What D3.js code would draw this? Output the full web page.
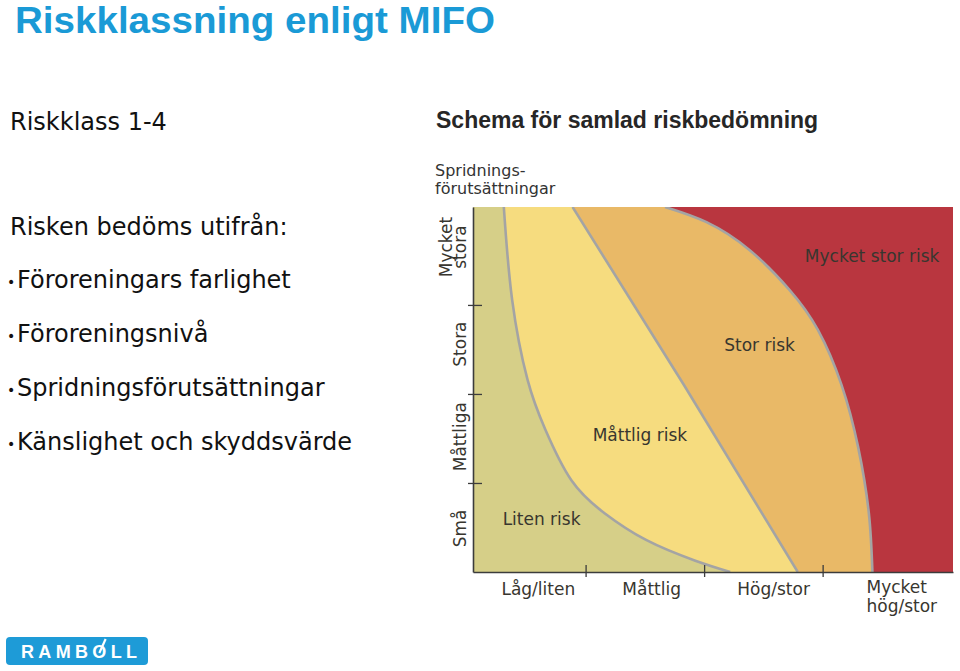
<!DOCTYPE html>
<html><head><meta charset="utf-8">
<script src="https://cdn.jsdelivr.net/npm/d3@7"></script>
<style>html,body{margin:0;padding:0;background:#fff;} svg{display:block;}</style>
</head><body>
<svg id="c" width="960" height="671"></svg>
<script>
// ---------- data ----------
const xCategories = ["Låg/liten", "Måttlig", "Hög/stor", "Mycket hög/stor"];
const yCategories = ["Små", "Måttliga", "Stora", "Mycket stora"];
const xTickValues = [1, 2, 3];
const yTickValues = [1, 2, 3];
const riskClasses = ["Liten risk", "Måttlig risk", "Stor risk", "Mycket stor risk"];
// boundary curves between risk classes, [x, y] in category units (top to bottom)
const boundaryLitenMattlig = [[0.31,4.1],[0.38,3.06],[0.51,2.16],[0.66,1.60],[0.88,1.03],[1.16,0.66],[1.51,0.36],[1.92,0.13],[2.22,0]];
const boundaryMattligStor = [[0.89,4.1],[1.83,2.1],[2.79,0]];
const boundaryStorMycket = [[1.67,4.1],[2.02,3.93],[2.38,3.62],[2.72,3.17],[2.96,2.72],[3.16,2.10],[3.30,1.40],[3.39,0.66],[3.42,0]];
const bulletItems = ["Föroreningars farlighet", "Föroreningsnivå", "Spridningsförutsättningar", "Känslighet och skyddsvärde"];

// ---------- layout / style ----------
const svg = d3.select("#c");
const X0 = 0.05, X1 = 4.1, Y0 = 0, Y1 = 4.1;
const x = d3.scaleLinear().domain([X0, X1]).range([473, 953]);
const y = d3.scaleLinear().domain([Y0, Y1]).range([572, 207]);
const colors = ["#d6cf88", "#f6dc7f", "#e9b967", "#b9363f"];
const lineCol = "#a4a4a4";
const axisCol = "#3c3c3c";
const textCol = "#38362f";
const FONT = "'DejaVu Sans', Verdana, sans-serif";

// page title
svg.append("text").attr("x", 15).attr("y", 33)
  .attr("font-family", "'Liberation Sans', Arial, sans-serif").attr("font-weight", "bold")
  .attr("font-size", 37).attr("fill", "#1a9ad6")
  .attr("textLength", 480).attr("lengthAdjust", "spacingAndGlyphs").text("Riskklassning enligt MIFO");

// left text
const left = svg.append("g").attr("font-family", FONT).attr("font-size", 24).attr("fill", "#111");
left.append("text").attr("x", 10).attr("y", 130).text("Riskklass 1-4");
left.append("text").attr("x", 10).attr("y", 235).text("Risken bedöms utifrån:");
bulletItems.forEach((t, i) => {
  const yy = 288 + i * 54;
  left.append("text").attr("x", 7).attr("y", yy - 1).attr("font-size", 14).text("•");
  left.append("text").attr("x", 17).attr("y", yy).text(t);
});

// chart title
svg.append("text").attr("x", 436).attr("y", 128)
  .attr("font-family", "'Liberation Sans', Arial, sans-serif").attr("font-weight", "bold")
  .attr("font-size", 23).attr("fill", "#262626").text("Schema för samlad riskbedömning");

// y axis title
const ytg = svg.append("g").attr("font-family", FONT).attr("font-size", 16).attr("fill", "#333");
ytg.append("text").attr("x", 435).attr("y", 176).text("Spridnings-");
ytg.append("text").attr("x", 435).attr("y", 193.5).text("förutsättningar");

// plot regions
svg.append("clipPath").attr("id", "plotclip").append("rect")
  .attr("x", x(X0)).attr("y", y(Y1)).attr("width", x(X1) - x(X0)).attr("height", y(Y0) - y(Y1));
const plot = svg.append("g").attr("clip-path", "url(#plotclip)");
const curveGen = d3.line().x(d => x(d[0])).y(d => y(d[1])).curve(d3.curveNatural);

plot.append("rect").attr("x", x(X0)).attr("y", y(Y1))
  .attr("width", x(X1) - x(X0)).attr("height", y(Y0) - y(Y1)).attr("fill", colors[0]);

const boundaries = [boundaryLitenMattlig, boundaryMattligStor, boundaryStorMycket];
boundaries.forEach((b, i) => {
  const last = b[b.length - 1];
  const d = curveGen(b) + `L${x(X1) + 2},${y(last[1])}L${x(X1) + 2},${y(Y1) - 2}L${x(b[0][0])},${y(Y1) - 2}Z`;
  plot.append("path").attr("d", d).attr("fill", colors[i + 1]);
});
boundaries.forEach(b => {
  plot.append("path").attr("d", curveGen(b)).attr("fill", "none")
    .attr("stroke", lineCol).attr("stroke-width", 2.6);
});

// region labels (anchors in category units)
const regionLabelPos = [[0.30, 0.53], [1.06, 1.47], [2.17, 2.48], [2.85, 3.48]];
riskClasses.forEach((t, i) => {
  svg.append("text").attr("x", x(regionLabelPos[i][0])).attr("y", y(regionLabelPos[i][1]))
    .attr("font-family", FONT).attr("font-size", 17).attr("fill", textCol).text(t);
});

// axes
const xAxis = svg.append("g").attr("transform", `translate(0,${y(Y0)})`)
  .call(d3.axisBottom(x).tickValues(xTickValues).tickSize(12).tickSizeOuter(0).tickFormat(""));
xAxis.selectAll(".tick line").attr("y1", -7).attr("y2", 5).attr("stroke", axisCol).attr("stroke-width", 1.3);
xAxis.select(".domain").attr("stroke", axisCol).attr("stroke-width", 1.6);

const yAxis = svg.append("g").attr("transform", `translate(${x(X0)},0)`)
  .call(d3.axisLeft(y).tickValues(yTickValues).tickSize(5).tickSizeOuter(0).tickFormat(""));
yAxis.selectAll(".tick line").attr("x1", -5).attr("x2", 9).attr("stroke", axisCol).attr("stroke-width", 1.3);
yAxis.select(".domain").attr("stroke", axisCol).attr("stroke-width", 1.6);

// x category labels (left anchors in category units)
const xLabelLeft = [0.29, 1.31, 2.28, 3.37];
xCategories.forEach((c, i) => {
  const lines = c === "Mycket hög/stor" ? ["Mycket", "hög/stor"] : [c];
  lines.forEach((l, j) => {
    svg.append("text").attr("font-family", FONT).attr("font-size", 17).attr("fill", textCol)
      .attr("x", x(xLabelLeft[i])).attr("y", (lines.length > 1 ? 593 : 595) + j * 18.5).text(l);
  });
});

// y category labels (rotated, centers in category units)
const yLabelCenter = [0.49, 1.52, 2.56, 3.65];
yCategories.forEach((c, i) => {
  const lines = c === "Mycket stora" ? ["Mycket", "stora"] : [c];
  const cy = y(yLabelCenter[i]);
  lines.forEach((l, j) => {
    const bx = lines.length > 1 ? 452 + j * 14 : 466;
    svg.append("text").attr("font-family", FONT).attr("font-size", 17).attr("fill", textCol)
      .attr("text-anchor", "middle")
      .attr("transform", `translate(0,${cy}) rotate(-90)`)
      .attr("x", 0).attr("y", bx).text(l);
  });
});

// logo
svg.append("rect").attr("x", 6).attr("y", 637).attr("width", 142).attr("height", 28).attr("rx", 4).attr("fill", "#1e9bd7");
const logo = svg.append("text").attr("x", 21).attr("y", 658)
  .attr("font-family", "'Liberation Sans', Arial, sans-serif").attr("font-weight", "bold")
  .attr("font-size", 18).attr("fill", "#fff")
  .attr("textLength", 116).attr("lengthAdjust", "spacing").text("RAMBOLL");
try {
  const e = logo.node().getExtentOfChar(4);
  svg.append("line").attr("x1", e.x + e.width * 0.5).attr("y1", e.y + e.height * 0.55)
    .attr("x2", e.x + e.width * 0.95).attr("y2", 639)
    .attr("stroke", "#fff").attr("stroke-width", 2.2);
} catch (err) {}
</script>
</body></html>
